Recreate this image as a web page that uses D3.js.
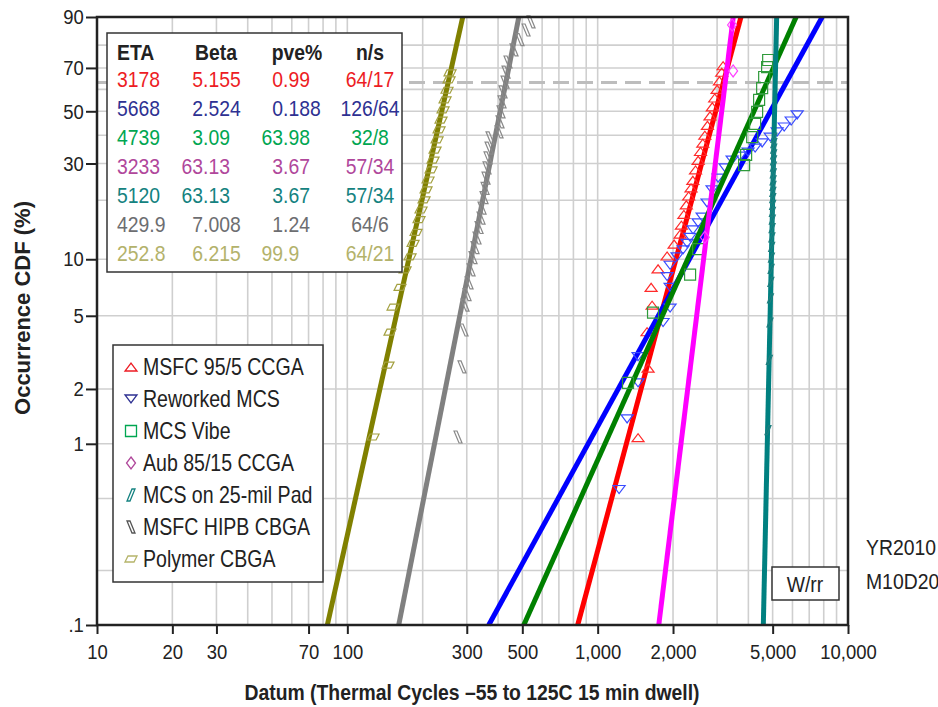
<!DOCTYPE html>
<html>
<head>
<meta charset="utf-8">
<script src="https://cdn.jsdelivr.net/npm/d3@7"></script>
<style>
  body { margin: 0; background: #fff; }
  text { font-family: "Liberation Sans", Arial, Helvetica, sans-serif; }
</style>
</head>
<body>
<div id="chart"></div>
<script>
// ---- data ----
var seriesNames = ["MSFC 95/5 CCGA", "Reworked MCS", "MCS Vibe", "Aub 85/15 CCGA",
  "MCS on 25-mil Pad", "MSFC HIPB CBGA", "Polymer CBGA"];
var etaValues = [3178, 5668, 4739, 3233, 5120, 429.9, 252.8];
var betaValues = [5.155, 2.524, 3.09, 63.13, 63.13, 7.008, 6.215];
// slope of the fitted line as drawn (magenta fit is drawn steeper than the table value)
var fitBeta = [5.155, 2.524, 3.09, 11.3, 63.13, 7.008, 6.215];
var etaLabels = ["3178", "5668", "4739", "3233", "5120", "429.9", "252.8"];
var betaLabels = ["5.155", "2.524", "3.09", "63.13", "63.13", "7.008", "6.215"];
var pveLabels = ["0.99", "0.188", "63.98", "3.67", "3.67", "1.24", "99.9"];
var nsLabels = ["64/17", "126/64", "32/8", "57/34", "57/34", "64/6", "64/21"];

var xTicks = [10, 20, 30, 70, 100, 300, 500, 1000, 2000, 5000, 10000];
var yTicks = [90, 70, 50, 30, 10, 5, 2, 1, 0.1];
var yTickLabels = ["90", "70", "50", "30", "10", "5", "2", "1", ".1"];
var yGrid = [90, 80, 70, 60, 50, 40, 30, 20, 10, 5, 2, 1, 0.5, 0.2];

// [cycles, CDF %]
var msfcPts = [[1450, 1.08], [1590, 2.6], [1575, 4.1], [1650, 5.7], [1635, 7.1], [1743, 8.9],
  [1894, 10.4], [2020, 12.0], [2134, 13.5], [2160, 15], [2210, 17], [2260, 19], [2310, 21],
  [2360, 23], [2400, 25], [2460, 28], [2520, 31], [2575, 34], [2630, 37], [2680, 40],
  [2745, 44], [2810, 48], [2870, 52], [2935, 56], [3000, 60], [3065, 64], [3130, 68], [3170, 71]];
var reworkPts = [[1218, 0.56], [1311, 1.37], [1450, 2.16], [1450, 3.0], [1825, 4.6], [1947, 5.5],
  [1947, 7.1], [1894, 8.1], [1947, 9.3], [2076, 10.3], [2194, 11.2], [2276, 12.1], [2340, 13.0],
  [2405, 14.2], [2519, 15.4], [2614, 16.5], [2736, 19.4], [2864, 22.5], [3027, 25.6],
  [3228, 28.6], [3444, 31.1], [3707, 32.4], [3991, 33.8], [4256, 35.2], [4540, 37.1],
  [4887, 39.3], [5212, 41.3], [5560, 43.3], [5930, 45.8], [6268, 48.4]];
var vibePts = [[1322, 2.16], [1664, 5.2], [2340, 8.3], [2519, 11.3], [3846, 29.5], [3918, 32.8],
  [4142, 39.3], [4256, 44.6], [4335, 49.7], [4415, 55.1], [4540, 60.6], [4625, 65.8],
  [4752, 70.4], [4798, 73.6]];
var aubPts = [[2680, 13.0], [3476, 68.6], [3444, 87.5]];
var padPts = [[4790, 1.19], [4850, 2.88], [4880, 4.6], [4900, 6.2], [4920, 7.6], [4930, 8.9],
  [4945, 10.2], [4955, 11.6], [4965, 13.0], [4975, 14.5], [4985, 16.0], [4990, 17.5],
  [5000, 19.0], [5005, 20.5], [5010, 22.0], [5015, 23.5], [5020, 25.0], [5030, 27.0],
  [5035, 29.0], [5040, 31.0], [5045, 33.0], [5050, 35.0], [5055, 37.0], [5060, 39.0]];
var hipbPts = [[276.8, 1.09], [287.2, 2.64], [292.6, 4.19], [295.3, 5.7], [300.8, 6.5],
  [306.4, 7.5], [312.1, 8.8], [317.8, 10.2], [323.7, 11.5], [329.7, 12.9], [335.9, 14.6],
  [342.1, 16.3], [345.3, 18.3], [351.7, 20.6], [355.0, 22.9], [358.2, 25.6], [361.5, 28.6],
  [364.9, 31.8], [368.3, 35.2], [371.6, 39.0], [403.7, 41.3], [407.4, 45.4], [411.2, 49.7],
  [415.0, 54.2], [418.9, 58.8], [426.6, 63.4], [430.5, 68.1], [438.5, 72.7], [463.4, 78.0],
  [489.7, 82.2], [517.6, 85.8], [542.0, 88.5]];
var polymerPts = [[126.7, 1.09], [145.4, 2.70], [148.1, 4.08], [152.3, 5.57], [162.4, 7.1],
  [170.1, 8.8], [178.1, 10.3], [183.1, 12.1], [188.2, 13.8], [193.4, 16.0], [197.0, 17.9],
  [202.5, 20.1], [206.3, 22.5], [210.1, 25.1], [216.0, 28.0], [220.0, 31.1], [224.1, 34.5],
  [228.3, 38.2], [232.5, 42.1], [236.8, 46.2], [241.2, 50.6], [245.7, 55.1], [250.2, 59.6],
  [254.9, 64.4], [257.2, 67.7]];
var seriesPoints = [msfcPts, reworkPts, vibePts, aubPts, padPts, hipbPts, polymerPts];

// ---- styles ----
var lineColors = ["#ff0000", "#0000ff", "#008000", "#ff00ff", "#008080", "#808080", "#808000"];
var pointColors = ["#ff2a2a", "#3a4cff", "#2e9a3a", "#ff40ff", "#1e7f7f", "#8a8a8a", "#a3a040"];
var legendColors = ["#ed1c24", "#2e3192", "#00a651", "#b0479b", "#148280", "#555555", "#b5b46a"];
var textColors = ["#ed1c24", "#2e3192", "#00a651", "#b0479b", "#148280", "#6d6e71", "#b3b26b"];
var markerPaths = [
  "M-6,4L6,4L0,-4Z",
  "M-6,-4L6,-4L0,4Z",
  "M-5.5,-5.5h11v11h-11Z",
  "M0,-6L4.5,0L0,6L-4.5,0Z",
  "M-4,6L-1,6L4,-6L1,-6Z",
  "M-4,-6L-1,-6L4,6L1,6Z",
  "M-6,3L3,3L6,-3L-3,-3Z"
];
var pointScale = [1, 1, 1, 1, 0.75, 1, 1];

var width = 938, height = 707;
var plotLeft = 97, plotRight = 848, plotTop = 17, plotBottom = 625;
var sx = 0.88;

var svg = d3.select("#chart").append("svg")
  .attr("width", width).attr("height", height);

// Weibull probability transform
function ww(p) { return Math.log(-Math.log(1 - p / 100)); }

var x = d3.scaleLog().domain([10, 10000]).range([plotLeft, plotRight]);
var yLin = d3.scaleLinear().domain([ww(90), ww(0.1)]).range([plotTop, plotBottom]);
function y(p) { return yLin(ww(p)); }

// grid
var xGrid = [];
[10, 100, 1000].forEach(function(dec) {
  for (var k = 1; k <= 9; k++) xGrid.push(dec * k);
});
xGrid.push(10000);

svg.append("g").selectAll("line").data(xGrid).enter().append("line")
  .attr("x1", function(d) { return x(d); }).attr("x2", function(d) { return x(d); })
  .attr("y1", plotTop).attr("y2", plotBottom)
  .attr("stroke", "#cfcfcf").attr("stroke-width", 1.6);
svg.append("g").selectAll("line").data(yGrid).enter().append("line")
  .attr("x1", plotLeft).attr("x2", plotRight)
  .attr("y1", function(d) { return y(d); }).attr("y2", function(d) { return y(d); })
  .attr("stroke", "#cfcfcf").attr("stroke-width", 1.6);

// 63.2% line
svg.append("line")
  .attr("x1", plotLeft).attr("x2", plotRight)
  .attr("y1", yLin(0)).attr("y2", yLin(0))
  .attr("stroke", "#bdbdbd").attr("stroke-width", 3)
  .attr("stroke-dasharray", "16,8");

// fit lines and points
var line = d3.line()
  .x(function(d) { return x(d[0]); })
  .y(function(d) { return y(d[1]); });

seriesNames.forEach(function(name, i) {
  var ends = [0.1, 90].map(function(p) {
    return [etaValues[i] * Math.exp(ww(p) / fitBeta[i]), p];
  });
  svg.append("path")
    .datum(ends)
    .attr("d", line)
    .attr("fill", "none")
    .attr("stroke", lineColors[i])
    .attr("stroke-width", 5);

  svg.append("g").selectAll("path").data(seriesPoints[i]).enter().append("path")
    .attr("d", markerPaths[i])
    .attr("transform", function(d) {
      return "translate(" + x(d[0]) + "," + y(d[1]) + ") scale(" + pointScale[i] + ")";
    })
    .attr("fill", "none")
    .attr("stroke", pointColors[i])
    .attr("stroke-width", 1.2 / pointScale[i]);
});

// axes
var xAxis = d3.axisBottom(x).tickValues(xTicks)
  .tickFormat(d3.format(",")).tickSize(9).tickPadding(10);
var gx = svg.append("g").attr("transform", "translate(0," + plotBottom + ")").call(xAxis);
gx.select(".domain").remove();
gx.selectAll(".tick line").attr("stroke", "#222").attr("stroke-width", 2);
gx.selectAll("text").attr("font-size", 21).attr("fill", "#222")
  .attr("transform", "scale(" + sx + ",1)");

var yAxis = d3.axisLeft(yLin).tickValues(yTicks.map(function(p) { return ww(p); }))
  .tickFormat(function(d, i) { return yTickLabels[i]; }).tickSize(11).tickPadding(4);
var gy = svg.append("g").attr("transform", "translate(" + plotLeft + ",0)").call(yAxis);
gy.select(".domain").remove();
gy.selectAll(".tick line").attr("stroke", "#222").attr("stroke-width", 2);
gy.selectAll("text").attr("font-size", 21).attr("fill", "#222")
  .attr("transform", "scale(" + sx + ",1)");

// frame
svg.append("rect")
  .attr("x", plotLeft).attr("y", plotTop)
  .attr("width", plotRight - plotLeft).attr("height", plotBottom - plotTop)
  .attr("fill", "none").attr("stroke", "#222").attr("stroke-width", 2.5);

// text helper, slightly condensed like the original
function label(g, txt, px, py, opts) {
  opts = opts || {};
  return g.append("text")
    .attr("transform", "translate(" + px + "," + py + ") scale(" + (opts.sx || sx) + ",1)")
    .attr("text-anchor", opts.anchor || "start")
    .attr("font-size", opts.size || 22)
    .attr("font-weight", opts.bold ? "bold" : "normal")
    .attr("fill", opts.color || "#222")
    .text(txt);
}
label(svg, "Datum (Thermal Cycles \u201355 to 125C 15 min dwell)", 472, 700,
  { anchor: "middle", bold: true, size: 22 });
svg.append("text")
  .attr("transform", "translate(30,308) rotate(-90)")
  .attr("text-anchor", "middle")
  .attr("font-size", 22).attr("font-weight", "bold").attr("fill", "#222")
  .text("Occurrence CDF (%)");

// parameter table
var tbl = svg.append("g");
tbl.append("rect").attr("x", 107).attr("y", 33).attr("width", 295).attr("height", 239)
  .attr("fill", "#fff").attr("stroke", "#333").attr("stroke-width", 1.5);
var digitW = 0.556 * 22 * sx;
label(tbl, "ETA", 117, 60, { bold: true });
label(tbl, "Beta", 216, 60, { bold: true, anchor: "middle" });
label(tbl, "pve%", 297, 60, { bold: true, anchor: "middle" });
label(tbl, "n/s", 370, 60, { bold: true, anchor: "middle" });
seriesNames.forEach(function(name, i) {
  var by = 87 + i * 29;
  label(tbl, etaLabels[i], 117, by, { color: textColors[i] });
  var bInt = betaLabels[i].split(".")[0].length;
  label(tbl, betaLabels[i], 203 - bInt * digitW, by, { color: textColors[i] });
  var pInt = pveLabels[i].split(".")[0].length;
  label(tbl, pveLabels[i], 283 - pInt * digitW, by, { color: textColors[i] });
  label(tbl, nsLabels[i], 370, by, { color: textColors[i], anchor: "middle" });
});

// legend
var leg = svg.append("g");
leg.append("rect").attr("x", 113).attr("y", 345).attr("width", 210).attr("height", 237)
  .attr("fill", "#fff").attr("stroke", "#333").attr("stroke-width", 1.5);
seriesNames.forEach(function(name, i) {
  var cy = 367 + i * 32;
  leg.append("path")
    .attr("d", markerPaths[i])
    .attr("transform", "translate(131," + cy + ")")
    .attr("fill", "none").attr("stroke", legendColors[i]).attr("stroke-width", 1.3);
  label(leg, name, 143, cy + 8, { size: 23, sx: 0.85 });
});

// W/rr box and date stamp
svg.append("rect").attr("x", 772).attr("y", 567).attr("width", 67).attr("height", 33)
  .attr("fill", "#fff").attr("stroke", "#333").attr("stroke-width", 1.5);
label(svg, "W/rr", 805, 592, { anchor: "middle" });
label(svg, "YR2010", 866, 555);
label(svg, "M10D20", 866, 589);
</script>
</body>
</html>
